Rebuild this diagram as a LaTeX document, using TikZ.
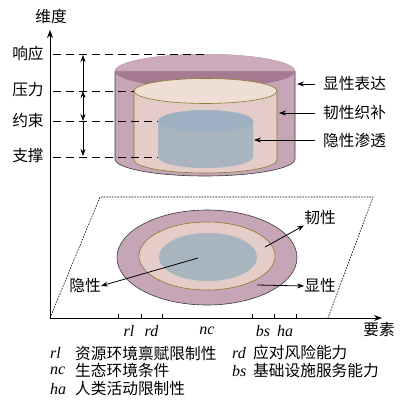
\documentclass[tikz,border=0pt]{standalone}
\usepackage{fontspec}
\setmainfont{Liberation Serif}
\newfontfamily\cjk{Noto Sans CJK SC}
\usetikzlibrary{arrows.meta}
\definecolor{outerside}{HTML}{C5A5B6}
\definecolor{outertopback}{HTML}{CBABBB}
\definecolor{outertopfront}{HTML}{A67B92}
\definecolor{tanside}{HTML}{E4CDC8}
\definecolor{tantop}{HTML}{EEDED3}
\definecolor{olive}{HTML}{8C7A2E}
\definecolor{blueside}{HTML}{A8B4BE}
\definecolor{bluetop}{HTML}{9DB1C2}
\definecolor{edgegray}{HTML}{3A3A3A}
\begin{document}
\begin{tikzpicture}[x=1pt,y=-1pt,
  lab/.style={font=\cjk\fontsize{15.7}{15.7}\selectfont, inner sep=0pt},
  abbr/.style={font=\itshape\fontsize{16}{16}\selectfont, inner sep=0pt},
  axisarrow/.style={line width=0.9pt,-{Stealth[length=8pt,width=6pt]}},
  ptr/.style={line width=0.8pt,-{Stealth[length=7pt,width=5pt]}},
  lvl/.style={line width=0.8pt, dash pattern=on 8pt off 5pt},
  plane/.style={line width=0.6pt, dash pattern=on 1.6pt off 1.2pt},
  dbl/.style={line width=0.8pt},
]
\useasboundingbox (0,0) rectangle (415,407);

% ---------- outer cylinder ----------
\fill[outerside] (115,71) -- (115,159) arc[start angle=180,end angle=0,x radius=90,y radius=17] -- (295,71) -- cycle;
\draw[edgegray, line width=0.6pt] (115,71) -- (115,159) arc[start angle=180,end angle=0,x radius=90,y radius=17] -- (295,71);
\fill[outertopfront] (205,71) ellipse[x radius=90,y radius=17];
\fill[outertopback] (115,71) arc[start angle=180,end angle=360,x radius=90,y radius=17] -- cycle;

% ---------- tan cylinder ----------
\fill[tanside] (134,91) -- (134,160) arc[start angle=180,end angle=0,x radius=71.5,y radius=13] -- (277,91) -- cycle;
\draw[olive, line width=0.6pt] (134,91) -- (134,160) arc[start angle=180,end angle=0,x radius=71.5,y radius=13] -- (277,91);
\fill[tantop] (205.5,91) ellipse[x radius=71.5,y radius=12.5];
\draw[olive, line width=0.6pt] (205.5,91) ellipse[x radius=71.5,y radius=12.5];

% ---------- blue cylinder ----------
\fill[blueside] (158,121) -- (158,157) arc[start angle=180,end angle=0,x radius=47.5,y radius=11] -- (253,121) -- cycle;
\fill[bluetop] (205.5,121) ellipse[x radius=47.5,y radius=11];

% ---------- vertical axis & levels ----------
\coordinate (O) at (50,318);
\coordinate (Ytop) at (50,30);
\coordinate (Xend) at (382,318);
\draw[axisarrow] (O) -- (Ytop);
\node[lab] (ydim) at (51,17) {维度};

\node[lab] (l1) at (28,54) {响应};
\node[lab] (l2) at (28,90) {压力};
\node[lab] (l3) at (28,121) {约束};
\node[lab] (l4) at (28,156) {支撑};

\coordinate (d1a) at (53,54);  \coordinate (d1b) at (205,54);
\coordinate (d2a) at (53,91);  \coordinate (d2b) at (134,91);
\coordinate (d3a) at (53,121); \coordinate (d3b) at (158,121);
\coordinate (d4a) at (53,157); \coordinate (d4b) at (158,157);
\draw[lvl] (d1a) -- (d1b);
\draw[lvl] (d2a) -- (d2b);
\draw[lvl] (d3a) -- (d3b);
\draw[lvl] (d4a) -- (d4b);

\coordinate (v1) at (83,55);
\coordinate (v2) at (83,91);
\coordinate (v3) at (83,121);
\coordinate (v4) at (83,156);
\draw[dbl,-{Stealth[length=7pt,width=5pt]}] (v2) -- (v1);
\draw[dbl,{Stealth[length=7pt,width=5pt]}-{Stealth[length=7pt,width=5pt]}] (v2) -- (v3);
\draw[dbl,-{Stealth[length=7pt,width=5pt]}] (v3) -- (v4);

% ---------- right labels ----------
\node[lab, anchor=west] (t1) at (323,84) {显性表达};
\node[lab, anchor=west] (t2) at (323,113) {韧性织补};
\node[lab, anchor=west] (t3) at (323,140) {隐性渗透};
\coordinate (p1) at (297,84);
\coordinate (p2) at (279,113);
\coordinate (p3) at (254,140);
\draw[ptr] ([xshift=-8pt]t1.west) -- (p1);
\draw[ptr] ([xshift=-8pt]t2.west) -- (p2);
\draw[ptr] ([xshift=-8pt]t3.west) -- (p3);

% ---------- plane ----------
\coordinate (P1) at (100,197);
\coordinate (P2) at (373,197);
\coordinate (P3) at (328,318);
\draw[plane] (O) -- (P1) -- (P2) -- (P3);

% ---------- floor ellipses ----------
\fill[outerside] (207,257.5) ellipse[x radius=90,y radius=47.5];
\draw[edgegray, line width=0.6pt] (207,257.5) ellipse[x radius=90,y radius=47.5];
\fill[tanside] (207,256) ellipse[x radius=68,y radius=34];
\draw[olive, line width=0.6pt] (207,256) ellipse[x radius=68,y radius=34];
\fill[blueside] (208,257) ellipse[x radius=49,y radius=24];

\coordinate (c0) at (198,258);
\coordinate (c1) at (265,247);
\coordinate (c2) at (257,285);
\node[lab] (f1) at (85,286) {隐性};
\node[lab] (f2) at (320,218) {韧性};
\node[lab] (f3) at (320,286) {显性};
\draw[ptr] (c0) -- (f1.east);
\draw[ptr] (c1) -- (f2.south west);
\draw[ptr] (c2) -- (f3.west);

% ---------- horizontal axis ----------
\draw[axisarrow] (O) -- (Xend);
\node[lab] (xdim) at (379,330) {要素};
\foreach \t in {118,141,162,252,274,296} \draw[line width=0.6pt] (\t,318) -- (\t,313.5);
\node[abbr] (a1) at (129,331) {rl};
\node[abbr] (a2) at (151.5,331) {rd};
\node[abbr] (a3) at (207,331) {nc};
\node[abbr] (a4) at (263,331) {bs};
\node[abbr] (a5) at (285,331) {ha};

% ---------- legend ----------
\node[abbr, anchor=west] (g1) at (50,353) {rl};
\node[lab, anchor=west] (g1t) at (75,353) {资源环境禀赋限制性};
\node[abbr, anchor=west] (g2) at (232,353) {rd};
\node[lab, anchor=west] (g2t) at (253,353) {应对风险能力};
\node[abbr, anchor=west] (g3) at (50,371) {nc};
\node[lab, anchor=west] (g3t) at (75,371) {生态环境条件};
\node[abbr, anchor=west] (g4) at (232,371) {bs};
\node[lab, anchor=west] (g4t) at (253,371) {基础设施服务能力};
\node[abbr, anchor=west] (g5) at (50,389) {ha};
\node[lab, anchor=west] (g5t) at (75,389) {人类活动限制性};
\end{tikzpicture}
\end{document}
